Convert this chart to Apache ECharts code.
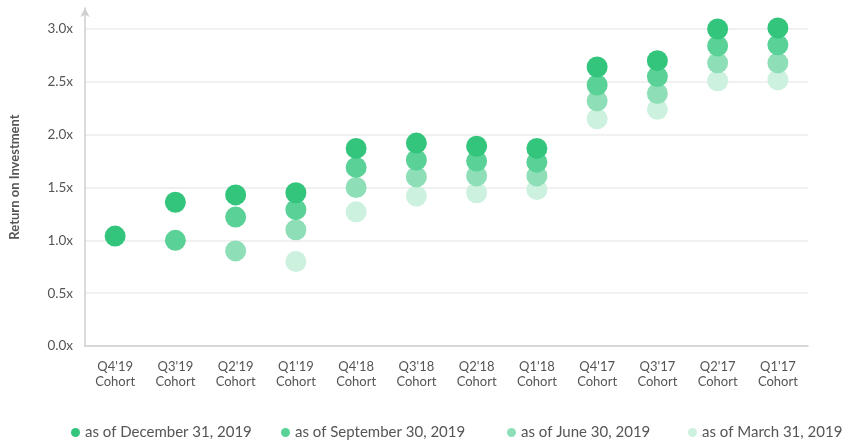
<!DOCTYPE html>
<html><head><meta charset="utf-8">
<script src="https://cdn.jsdelivr.net/npm/echarts@6/dist/echarts.min.js"></script>
<style>html,body{margin:0;padding:0;background:#fff}#c{width:844px;height:441px}</style>
</head><body><div id="c"></div>
<script>
const categories = ["Q4'19\nCohort","Q3'19\nCohort","Q2'19\nCohort","Q1'19\nCohort","Q4'18\nCohort","Q3'18\nCohort","Q2'18\nCohort","Q1'18\nCohort","Q4'17\nCohort","Q3'17\nCohort","Q2'17\nCohort","Q1'17\nCohort"];
const seriesNames = ["as of December 31, 2019","as of September 30, 2019","as of June 30, 2019","as of March 31, 2019"];
const dec2019 = [1.04, 1.36, 1.43, 1.45, 1.87, 1.92, 1.89, 1.87, 2.64, 2.70, 3.00, 3.01];
const sep2019 = [null, 1.00, 1.22, 1.29, 1.69, 1.76, 1.75, 1.74, 2.47, 2.55, 2.84, 2.85];
const jun2019 = [null, null, 0.90, 1.10, 1.50, 1.60, 1.61, 1.61, 2.32, 2.39, 2.68, 2.68];
const mar2019 = [null, null, null, 0.80, 1.27, 1.42, 1.45, 1.48, 2.15, 2.24, 2.51, 2.52];
const yTicks = {min: 0, max: 3.0, interval: 0.5};
const colors = ['#34c57d', '#5ad197', '#8edfb7', '#cdf1df'];
const legendLefts = [66, 276, 502, 683];

const font = 'Lato, "Open Sans", sans-serif';
const chart = echarts.init(document.getElementById('c'));
const allSeries = [dec2019, sep2019, jun2019, mar2019];
chart.setOption({
  animation: false,
  textStyle: {fontFamily: font},
  color: colors,
  grid: [
    {left: 85, right: 36, top: 29, bottom: 95},
    {left: 85, right: 36, top: 8, bottom: 95}
  ],
  legend: seriesNames.map((n, i) => ({
    top: 420, left: legendLefts[i], itemWidth: 9, itemHeight: 9,
    icon: 'circle',
    textStyle: {fontSize: 15, color: '#555', fontFamily: font},
    data: [n]
  })),
  xAxis: [
    {
      type: 'category', data: categories, gridIndex: 0,
      axisLine: {lineStyle: {color: '#cfcfcf', width: 1.5}},
      axisTick: {show: false},
      axisLabel: {color: '#555', fontSize: 13, lineHeight: 15, margin: 13, interval: 0, fontFamily: font}
    },
    {type: 'category', data: categories, gridIndex: 1, show: false}
  ],
  yAxis: [
    {
      type: 'value', gridIndex: 0, min: yTicks.min, max: yTicks.max, interval: yTicks.interval,
      axisLine: {show: false}, axisTick: {show: false},
      splitLine: {lineStyle: {color: '#ececec', width: 1.5}},
      axisLabel: {color: '#555', fontSize: 13.5, margin: 12, fontFamily: font,
        formatter: v => v.toFixed(1) + 'x'}
    },
    {
      type: 'value', gridIndex: 1, min: 0, max: 1,
      axisLine: {show: true, symbol: ['none', 'arrow'], symbolSize: [7, 9], lineStyle: {color: '#cfcfcf', width: 1.5}},
      axisTick: {show: false}, axisLabel: {show: false}, splitLine: {show: false},
      name: 'Return on Investment', nameLocation: 'middle', nameGap: 64,
      nameTextStyle: {fontSize: 13, fontWeight: 'bold', color: '#555', fontFamily: font}
    }
  ],
  series: allSeries.map((d, i) => ({
    name: seriesNames[i], type: 'scatter', xAxisIndex: 0, yAxisIndex: 0,
    symbolSize: 21, z: 10 - i, clip: false,
    itemStyle: {color: colors[i], opacity: 1},
    data: d.map(v => v === null ? '-' : v)
  }))
});
</script></body></html>
